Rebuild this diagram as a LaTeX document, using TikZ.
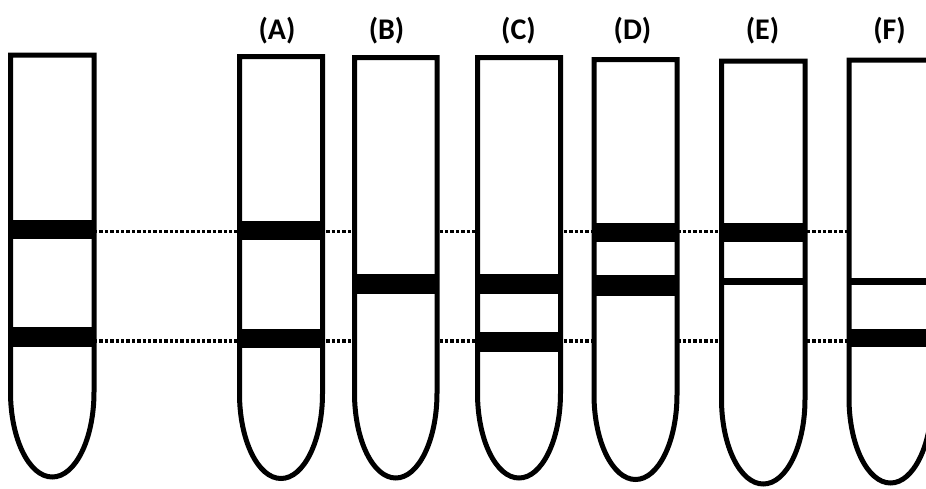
\documentclass[tikz,border=0pt]{standalone}
\usepackage{fontspec}
\setmainfont{Carlito}
\begin{document}
\begin{tikzpicture}[x=1pt,y=-1pt]
\tikzset{
  tubeline/.style={line width=5pt, draw=black, fill=white, line join=miter},
  band/.style={fill=black},
  guide/.style={line width=3.2pt, dash pattern=on 3.4pt off 2pt},
  lab/.style={font=\bfseries\fontsize{30}{32}\selectfont, inner sep=0pt, anchor=center}
}
\useasboundingbox (0,0) rectangle (926,488);
\clip (0,0) rectangle (926,488);
\fill[white] (0,0) rectangle (926,488);
\newcommand\drawtube[5]{%
  \pgfmathsetmacro\txc{(#2+#3)/2}%
  \pgfmathsetmacro\trx{(#3-#2)/2}%
  \pgfmathsetmacro\tys{#5-85}%
  \pgfmathsetmacro\tyc{\tys+0.5523*85}%
  \pgfmathsetmacro\txr{\txc+0.5523*\trx}%
  \pgfmathsetmacro\txl{\txc-0.5523*\trx}%
  \coordinate (#1l) at (#2,231);
  \coordinate (#1r) at (#3,231);
  \draw[tubeline] (#2,\tys) -- (#2,#4) -- (#3,#4) -- (#3,\tys)
    .. controls (#3,\tyc) and (\txr,#5) .. (\txc,#5)
    .. controls (\txl,#5) and (#2,\tyc) .. cycle;
}
\newcommand\drawband[4]{\fill[band] (#1,#3) rectangle (#2,#4);}
% guide lines (behind tubes)
\coordinate (g1s) at (94,231.5);
\coordinate (g1e) at (850,231.5);
\coordinate (g2s) at (94,341);
\coordinate (g2e) at (850,341);
\draw[guide] (g1s) -- (g1e);
\draw[guide] (g2s) -- (g2e);
% tubes
\drawtube{t0}{10.5}{94}{55}{477}
\drawtube{tA}{239.5}{322.5}{56.5}{478.5}
\drawtube{tB}{354.5}{437}{57.5}{478}
\drawtube{tC}{477.5}{560.5}{57.5}{478}
\drawtube{tD}{594}{677}{59.5}{479.5}
\drawtube{tE}{721.5}{805}{61}{484}
\drawtube{tF}{849}{932}{60}{483}
% bands
\drawband{10.5}{94}{220}{239}
\drawband{10.5}{94}{327}{347}
\drawband{239.5}{322.5}{221}{240}
\drawband{239.5}{322.5}{329}{348}
\drawband{354.5}{437}{274}{294}
\drawband{477.5}{560.5}{274}{294}
\drawband{477.5}{560.5}{332}{352}
\drawband{594}{677}{223}{242}
\drawband{594}{677}{275}{296}
\drawband{721.5}{805}{223}{242}
\drawband{721.5}{805}{278}{285}
\drawband{849}{932}{278}{285}
\drawband{849}{932}{329}{347}
% labels
\node[lab] (labA) at (277,31) {(A)};
\node[lab] (labB) at (386.5,31) {(B)};
\node[lab] (labC) at (518.5,31) {(C)};
\node[lab] (labD) at (632.5,31) {(D)};
\node[lab] (labE) at (762.5,31) {(E)};
\node[lab] (labF) at (889.5,31) {(F)};
\end{tikzpicture}
\end{document}
